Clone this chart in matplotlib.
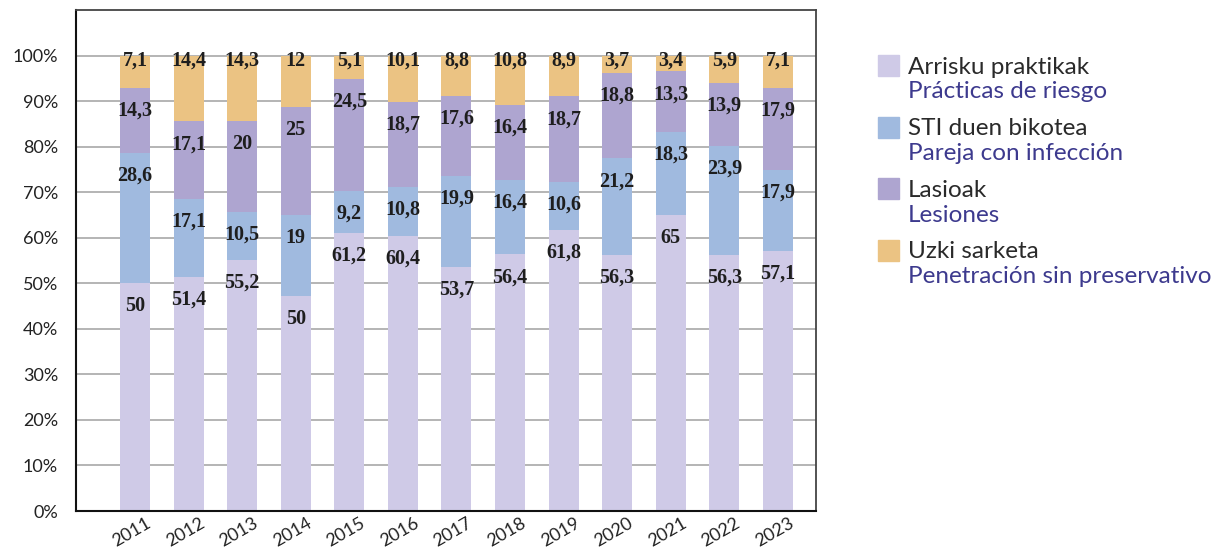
import numpy as np
import matplotlib.pyplot as plt
from matplotlib.patches import Rectangle

# Datos
years = ['2011', '2012', '2013', '2014', '2015', '2016', '2017',
         '2018', '2019', '2020', '2021', '2022', '2023']
practicas = [50, 51.4, 55.2, 50, 61.2, 60.4, 53.7, 56.4, 61.8, 56.3, 65, 56.3, 57.1]
pareja = [28.6, 17.1, 10.5, 19, 9.2, 10.8, 19.9, 16.4, 10.6, 21.2, 18.3, 23.9, 17.9]
lesiones = [14.3, 17.1, 20, 25, 24.5, 18.7, 17.6, 16.4, 18.7, 18.8, 13.3, 13.9, 17.9]
penetracion = [7.1, 14.4, 14.3, 12, 5.1, 10.1, 8.8, 10.8, 8.9, 3.7, 3.4, 5.9, 7.1]

series_eu = ['Arrisku praktikak', 'STI duen bikotea', 'Lasioak', 'Uzki sarketa']
series_es = ['Prácticas de riesgo', 'Pareja con infección', 'Lesiones',
             'Penetración sin preservativo']
colors = ['#cfcae7', '#a0badf', '#aea5d0', '#ebc383']

data = np.array([practicas, pareja, lesiones, penetracion], dtype=float)
# cada barra al 100 %
shares = data / data.sum(axis=0) * 100

fig = plt.figure(figsize=(12.18, 5.49), dpi=100)
ax = fig.add_axes([76 / 1218, 38 / 549, 740 / 1218, 501 / 549])

x = np.arange(len(years))
bottom = np.zeros(len(years))
for i in range(4):
    ax.bar(x, shares[i], bottom=bottom, width=0.56, color=colors[i],
           zorder=2, linewidth=0)
    top = bottom + shares[i]
    for j in range(len(years)):
        val = data[i, j]
        txt = ('%g' % val).replace('.', ',')
        ypos = top[j] - 1 if i == 3 else top[j] - 5
        ax.text(x[j], ypos, txt, ha='center', va='center', fontsize=14.5,
                fontweight='bold', family='Liberation Serif', color='#1e1e1e',
                zorder=3)
    bottom = top

ax.set_xlim(-1.1, 12.71)
ax.set_ylim(0, 110.1)
ax.set_yticks(np.arange(0, 101, 10))
ax.set_yticklabels(['%d%%' % v for v in range(0, 101, 10)],
                   family='Lato', fontsize=13, color='#222222')
ax.set_xticks(x + 0.2)
ax.set_xticklabels(years, rotation=30, ha='right', rotation_mode='anchor',
                   family='Lato', fontsize=13, color='#222222')
ax.tick_params(axis='y', length=0, pad=13)
ax.tick_params(axis='x', length=0, pad=3)
ax.yaxis.grid(True, color='#a8a8a8', lw=1.2, zorder=1)
ax.set_axisbelow(True)
for side in ['left', 'bottom']:
    ax.spines[side].set_color('#111111')
    ax.spines[side].set_linewidth(1.5)
for side in ['top', 'right']:
    ax.spines[side].set_color('#444444')
    ax.spines[side].set_linewidth(1.3)

# Leyenda
for k in range(4):
    y0 = 1 - (55 + 61.5 * k) / 549
    fig.patches.append(Rectangle((878 / 1218, y0 - 21 / 549), 21 / 1218, 21 / 549,
                                 transform=fig.transFigure, color=colors[k]))
    fig.text(908 / 1218, y0 - 12 / 549, series_eu[k], family='Lato',
             fontsize=17.5, color='#2a2a2a', va='center')
    fig.text(908 / 1218, y0 - 37 / 549, series_es[k], family='Lato',
             fontsize=17.5, color='#3d3a8e', va='center')

fig.savefig('out.png', dpi=100)
